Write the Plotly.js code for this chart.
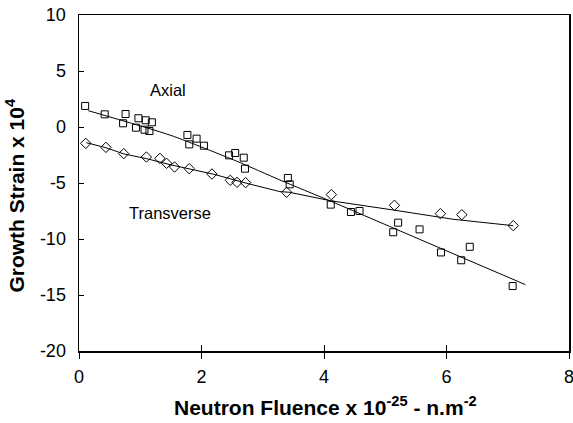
<!DOCTYPE html>
<html>
<head>
<meta charset="utf-8">
<script src="https://cdn.plot.ly/plotly-3.0.1.min.js"></script>
<style>html,body{margin:0;padding:0;background:#fff;}#chart{width:573px;height:423px;}</style>
</head>
<body>
<div id="chart"></div>
<script>
// Axial measurements (squares)
const axialX = [0.10, 0.42, 0.76, 0.72, 0.97, 0.93, 1.09, 1.07, 1.19, 1.15, 1.77, 1.92, 1.80, 2.04, 2.45, 2.55, 2.69, 2.71, 3.41, 3.44, 4.11, 4.44, 4.58, 5.21, 5.13, 5.56, 5.91, 6.38, 6.24, 7.08];
const axialY = [1.88, 1.13, 1.16, 0.33, 0.78, -0.06, 0.60, -0.24, 0.42, -0.36, -0.71, -1.04, -1.55, -1.67, -2.53, -2.32, -2.74, -3.72, -4.55, -5.12, -6.93, -7.59, -7.50, -8.54, -9.40, -9.14, -11.20, -10.70, -11.90, -14.20];
// Transverse measurements (diamonds)
const transX = [0.11, 0.44, 0.73, 1.10, 1.32, 1.43, 1.56, 1.80, 2.17, 2.47, 2.58, 2.72, 3.39, 4.12, 5.15, 5.90, 6.25, 7.09];
const transY = [-1.46, -1.82, -2.38, -2.68, -2.80, -3.24, -3.57, -3.72, -4.20, -4.76, -4.94, -4.97, -5.83, -6.04, -6.99, -7.74, -7.83, -8.81];
// Trend curves
const axialFitX = [0.15, 1.50, 2.57, 3.28, 4.10, 5.46, 7.29];
const axialFitY = [1.46, -0.75, -3.04, -4.73, -6.60, -9.79, -14.08];
const transFitX = [0.12, 0.44, 0.73, 1.10, 1.50, 2.20, 2.74, 3.28, 3.44, 4.10, 5.13, 6.11, 7.09];
const transFitY = [-1.40, -1.85, -2.40, -2.82, -3.38, -4.22, -5.03, -5.77, -5.83, -6.58, -7.41, -8.24, -8.81];
// Axis ticks
const xTicks = [0, 2, 4, 6, 8];
const yTicks = [-20, -15, -10, -5, 0, 5, 10];

const FONT = 'Liberation Sans, Arial, sans-serif';
const traces = [
  {x: axialFitX, y: axialFitY, mode: 'lines', line: {color: '#000', width: 1, shape: 'spline', smoothing: 0.6}, hoverinfo: 'skip'},
  {x: transFitX, y: transFitY, mode: 'lines', line: {color: '#000', width: 1}, hoverinfo: 'skip'},
  {x: axialX, y: axialY, mode: 'markers', marker: {symbol: 'square-open', size: 7, color: '#000', line: {width: 1, color: '#000'}}},
  {x: transX, y: transY, mode: 'markers', marker: {symbol: 'diamond-open', size: 8, color: '#000', line: {width: 1, color: '#000'}}},
  {x: [0], y: [0], xaxis: 'x2', mode: 'markers', marker: {opacity: 0}, hoverinfo: 'skip'}
];
const layout = {
  width: 573, height: 423,
  margin: {l: 79, r: 4, t: 15, b: 72},
  paper_bgcolor: '#fff', plot_bgcolor: '#fff',
  showlegend: false,
  font: {family: FONT, size: 16, color: '#000'},
  xaxis: {
    range: [0, 8], tickvals: xTicks, ticktext: xTicks.map(String),
    ticks: 'outside', ticklen: 6, tickwidth: 1, tickcolor: '#000',
    showline: true, linecolor: '#000', linewidth: 1.5, mirror: true,
    showgrid: false, zeroline: false, ticklabelstandoff: 3,
    ticklabeloverflow: 'allow',
    tickfont: {family: FONT, size: 18, color: '#000'}
  },
  xaxis2: {
    range: [0, 8], tickvals: xTicks, overlaying: 'x', anchor: 'y',
    ticks: 'inside', ticklen: 6, tickwidth: 1, tickcolor: '#000',
    showticklabels: false, showgrid: false, zeroline: false, showline: false
  },
  yaxis: {
    range: [-20, 10], tickvals: yTicks, ticktext: yTicks.map(String),
    ticks: 'inside', ticklen: 5, tickwidth: 1, tickcolor: '#000',
    showline: true, linecolor: '#000', linewidth: 1.5, mirror: true,
    showgrid: false, zeroline: false, ticklabelstandoff: 8,
    tickfont: {family: FONT, size: 18, color: '#000'}
  },
  annotations: [
    {text: 'Axial', x: 1.45, y: 3.3, xref: 'x', yref: 'y', showarrow: false, font: {family: FONT, size: 16.5}},
    {text: 'Transverse', x: 1.49, y: -7.68, xref: 'x', yref: 'y', showarrow: false, font: {family: FONT, size: 16.5}},
    {text: '<b>Growth Strain x 10<sup>4</sup></b>', textangle: -90, x: -0.131, y: 0.465, xref: 'paper', yref: 'paper',
     xanchor: 'center', yanchor: 'middle', showarrow: false, font: {family: FONT, size: 21}},
    {text: '<b>Neutron Fluence x 10<sup>-25</sup> - n.m<sup>-2</sup></b>', x: 0.503, y: -0.163, xref: 'paper', yref: 'paper',
     xanchor: 'center', yanchor: 'middle', showarrow: false, font: {family: FONT, size: 21}}
  ]
};
Plotly.newPlot('chart', traces, layout, {staticPlot: true, displayModeBar: false});
</script>
</body>
</html>
